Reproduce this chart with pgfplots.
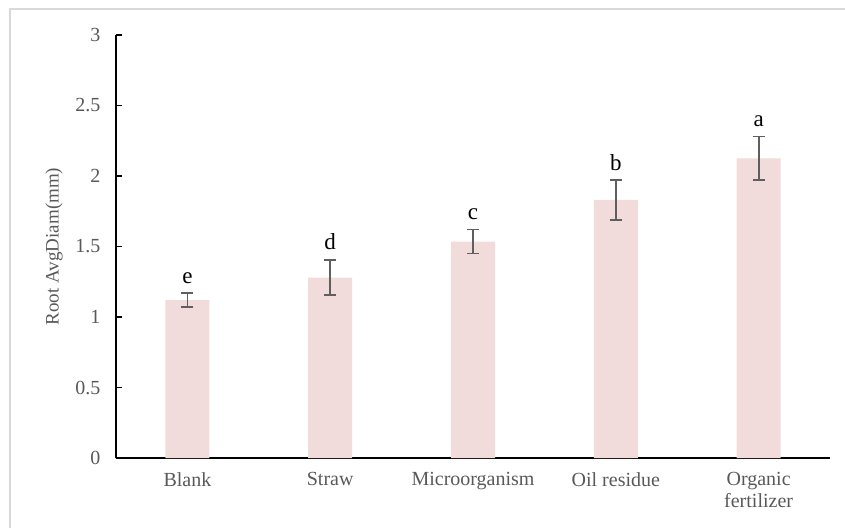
\documentclass[border=0pt]{standalone}
\usepackage{fontspec}
\setmainfont{Liberation Serif}
\usepackage{pgfplots}
\usepackage{pgfplotstable}
\pgfplotsset{compat=1.18}
\definecolor{barpink}{HTML}{F2DCDB}
\definecolor{tickgray}{HTML}{595959}
\definecolor{errgray}{HTML}{5F5F5F}
\definecolor{bordergray}{HTML}{D9D9D9}
\pgfplotstableread{
x y err lab
0 1.12 0.050 e
1 1.28 0.125 d
2 1.535 0.085 c
3 1.83 0.140 b
4 2.125 0.155 a
}\datatab
\begin{document}
\begin{tikzpicture}[x=1pt,y=1pt]
\begin{axis}[
  at={(116pt,70pt)}, anchor=south west,
  scale only axis, width=714pt, height=423pt,
  xmin=-0.5, xmax=4.5, ymin=0, ymax=3,
  axis lines=left,
  axis line style={-, black, line width=1.8pt},
  ytick={0,0.5,1,1.5,2,2.5,3},
  xtick={0,1,2,3,4},
  xticklabels={Blank,Straw,Microorganism,Oil residue,{Organic\\fertilizer}},
  major x tick style={draw=none},
  major y tick style={black, line width=1.8pt},
  major tick length=6pt,
  tick align=inside,
  /pgf/number format/assume math mode=true,
  ticklabel style={font=\fontsize{20}{22}\selectfont, text=tickgray},
  yticklabel style={xshift=-12pt},
  xticklabel style={align=center, yshift=-11pt},
  every axis y label/.style={at={(axis description cs:0,0.5)}, xshift=-62pt, rotate=90, anchor=center, font=\fontsize{19}{22}\selectfont, text=tickgray},
  ylabel={Root AvgDiam(mm)},
  clip=false,
]
\addplot[ybar, bar width=44pt, fill=barpink, draw=none,
  error bars/.cd, y dir=both, y explicit,
  error bar style={errgray, line width=1.8pt},
  error mark options={rotate=90, mark size=6pt, line width=1.8pt, errgray}]
  table[x=x, y=y, y error=err] {\datatab};
\addplot[draw=none, mark=none,
  nodes near coords, point meta=explicit symbolic,
  every node near coord/.append style={anchor=south, inner sep=0pt, yshift=9.5pt, font=\fontsize{23}{25}\selectfont, text=black}]
  table[x=x, y expr=\thisrow{y}+\thisrow{err}, meta=lab] {\datatab};
\end{axis}
\draw[bordergray, line width=2pt] (10pt,0pt) -- (10pt,519pt) -- (845pt,519pt);
\pgfresetboundingbox
\path[use as bounding box] (0pt,0pt) rectangle (845pt,528pt);
\end{tikzpicture}
\end{document}
